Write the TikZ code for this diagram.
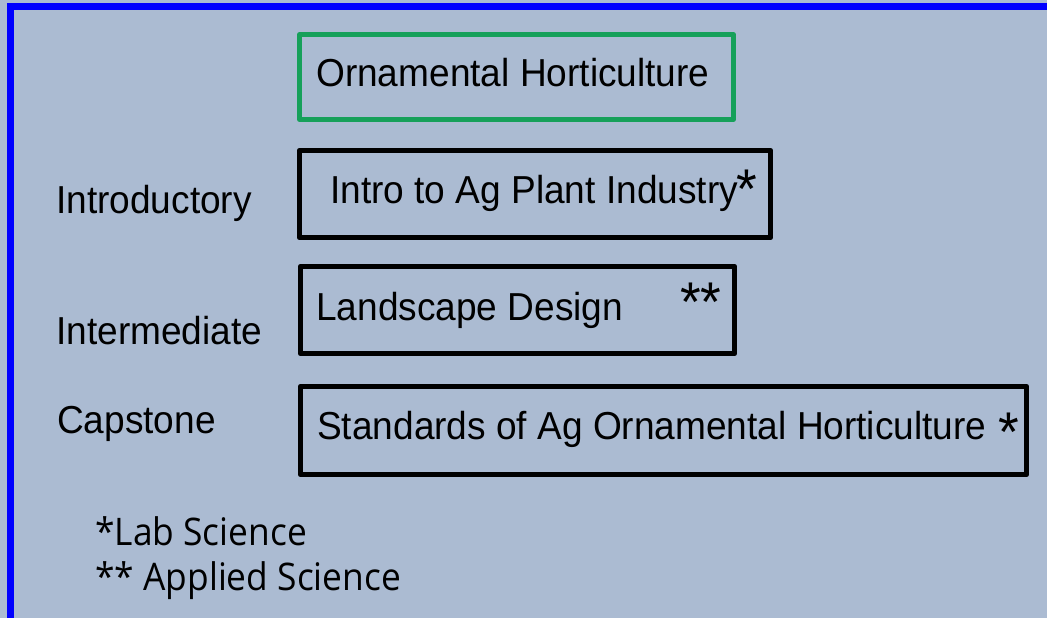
\documentclass[tikz,border=0pt]{standalone}
\usepackage{fontspec}
\setmainfont[FakeStretch=0.95]{Liberation Sans}
\newfontfamily\notefont[FakeStretch=0.93]{Open Sans}
\definecolor{bgcol}{RGB}{171,187,210}
\definecolor{framecol}{RGB}{0,0,255}
\definecolor{greencol}{RGB}{22,160,90}
\tikzset{
  lbl/.style={anchor=base west, inner sep=0pt, font=\fontsize{39}{46}\selectfont},
  boxtxt/.style={anchor=base west, inner sep=0pt, font=\fontsize{39}{46}\selectfont},
  star/.style={anchor=base west, inner sep=0pt, font=\fontsize{56}{62}\selectfont},
  note/.style={anchor=base west, inner sep=0pt, font=\notefont\fontsize{38}{44}\selectfont},
  coursebox/.style={draw=black, line width=5.8pt, rectangle, inner sep=0pt, line join=round},
  titlebox/.style={draw=greencol, line width=4.8pt, rectangle, inner sep=0pt, line join=round}
}
\begin{document}
\begin{tikzpicture}[x=1pt,y=-1pt]
\useasboundingbox (0,0) rectangle (1047,618);
\fill[bgcol] (0,0) rectangle (1047,618);
\draw[framecol, line width=7pt] (10.5,6.5) rectangle (1060,625);
% boxes
\node[titlebox, minimum width=434pt, minimum height=85pt] (title) at (516.5,77) {};
\node[coursebox, minimum width=471pt, minimum height=87pt] (intro) at (535,194) {};
\node[coursebox, minimum width=434pt, minimum height=87pt] (land) at (517.5,310) {};
\node[coursebox, minimum width=726pt, minimum height=88pt] (std) at (663.5,430.5) {};
% box texts
\node[boxtxt] (titletxt) at (316,86.5) {Ornamental Horticulture};
\node[boxtxt] (introtxt) at (330,203.5) {Intro to Ag Plant Industry};
\node[star] (introstar) at (736,208) {*};
\node[boxtxt] (landtxt) at (316,320.5) {Landscape Design};
\node[star] (landstar) at (680,321) {**};
\node[boxtxt] (stdtxt) at (317,439.5) {Standards of Ag Ornamental Horticulture};
\node[star] (stdstar) at (998,451) {*};
% level labels
\node[lbl] (lintro) at (56,213) {Introductory};
\node[lbl] (linter) at (56,344) {Intermediate};
\node[lbl] (lcap) at (57,433) {Capstone};
% notes
\node[note] (n1) at (95,545) {*Lab Science};
\node[note] (n2) at (95,590) {** Applied Science};
\end{tikzpicture}
\end{document}
